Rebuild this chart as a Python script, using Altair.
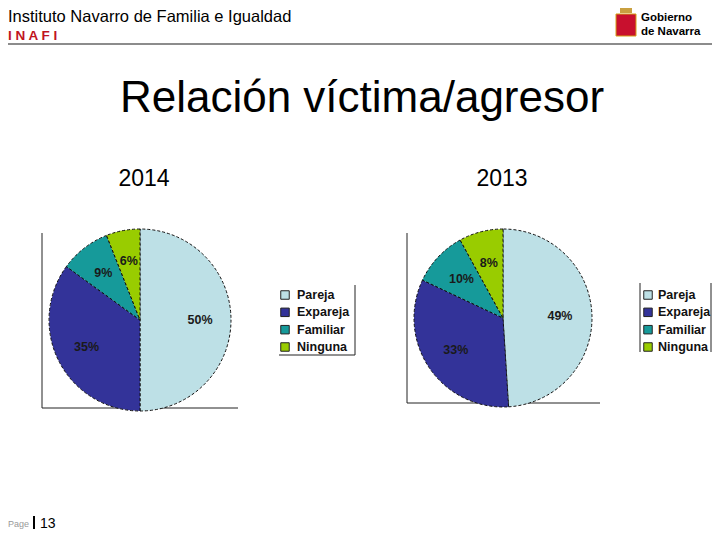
import altair as alt
import pandas as pd

# ---- data ----
categories = ["Pareja", "Expareja", "Familiar", "Ninguna"]
values_2014 = [50, 35, 9, 6]
values_2013 = [49, 33, 10, 8]
colors = ["#BDE0E6", "#333399", "#169A9A", "#99CC00"]
years = ["2014", "2013"]
title_text = "Relación víctima/agresor"
header_text = "Instituto Navarro de Familia e Igualdad"
header_sub = "I N A F I"
logo_lines = ["Gobierno", "de Navarra"]
page_label = "Page"
page_number = "13"

FONT = "Liberation Sans"

def make_df(vals):
    return pd.DataFrame({
        "cat": categories,
        "value": vals,
        "label": [f"{v}%" for v in vals],
        "order": list(range(len(categories))),
    })

df14 = make_df(values_2014)
df13 = make_df(values_2013)
one = pd.DataFrame({"k": [0]})
leg = pd.DataFrame({"cat": categories})

color_scale = alt.Scale(domain=categories, range=colors)
legend_y = alt.Y("cat:N", scale=alt.Scale(type="point", domain=categories, range=[287, 339], padding=0), axis=None)


def pie(df, cx, cy, r, lr):
    base = alt.Chart(df).encode(
        theta=alt.Theta("value:Q", stack=True),
        order=alt.Order("order:Q"),
    )
    arc = base.mark_arc(radius=r, stroke="#111", strokeWidth=1, strokeDash=[3, 2]).encode(
        color=alt.Color("cat:N", scale=color_scale, legend=None),
        x=alt.value(cx), y=alt.value(cy),
    )
    txt = base.mark_text(radius=lr, font=FONT, fontSize=12.5, fontWeight="bold", color="#1a1a1a").encode(
        text="label:N", x=alt.value(cx), y=alt.value(cy),
    )
    return [arc, txt]


def legend(xsq, xtxt):
    sq = alt.Chart(leg).mark_square(size=72, stroke="#222", strokeWidth=1, opacity=1, filled=True).encode(
        x=alt.value(xsq), y=legend_y,
        color=alt.Color("cat:N", scale=color_scale, legend=None),
    )
    tx = alt.Chart(leg).mark_text(align="left", baseline="middle", font=FONT, fontSize=12.5,
                                  fontWeight="bold", color="#111").encode(
        x=alt.value(xtxt), y=legend_y, text="cat:N",
    )
    return [sq, tx]


def vrule(x, y1, y2, color="#222", w=1):
    return alt.Chart(one).mark_rule(color=color, strokeWidth=w).encode(
        x=alt.value(x), y=alt.value(y1), y2=alt.value(y2))


def hrule(y, x1, x2, color="#222", w=1):
    return alt.Chart(one).mark_rule(color=color, strokeWidth=w).encode(
        y=alt.value(y), x=alt.value(x1), x2=alt.value(x2))


def label(text, x, y, size, color="#000", weight="normal", align="left", baseline="alphabetic"):
    return alt.Chart(one).mark_text(text=text, font=FONT, fontSize=size, color=color, fontWeight=weight,
                                    align=align, baseline=baseline).encode(
        x=alt.value(x), y=alt.value(y))


def rect(x1, x2, y1, y2, fill, stroke=None):
    kw = dict(fill=fill)
    if stroke:
        kw.update(stroke=stroke, strokeWidth=1)
    return alt.Chart(one).mark_rect(**kw).encode(
        x=alt.value(x1), x2=alt.value(x2), y=alt.value(y1), y2=alt.value(y2))


layers = []
# header
layers.append(label(header_text, 0, 14, 16.5))
layers.append(label(header_sub, 0, 32, 13.5, color="#C0141E", weight="bold"))
layers.append(hrule(36, 0, 704, color="#666", w=1.5))
# logo
layers.append(rect(612, 624, 0, 5, "#C9A040"))
layers.append(rect(608, 628, 6, 28, "#C8102E", stroke="#D4A017"))
layers.append(label(logo_lines[0], 633, 13, 11.5, weight="bold"))
layers.append(label(logo_lines[1], 633, 27, 11.5, weight="bold"))
# title
layers.append(label(title_text, 354, 104, 44, align="center"))
layers.append(label(years[0], 136, 178, 23, align="center"))
layers.append(label(years[1], 494, 178, 23, align="center"))

# pie 2014
layers.append(vrule(34, 225, 400))
layers.append(hrule(400, 34, 230))
layers += pie(df14, 132, 312, 91, 60)
layers += legend(277, 289)
layers.append(vrule(347, 277, 347))
layers.append(hrule(347, 271, 347))

# pie 2013
layers.append(vrule(399, 225, 395))
layers.append(hrule(395, 399, 592))
layers += pie(df13, 495, 310, 89, 57)
layers += legend(640, 650)
layers.append(vrule(632, 275, 344))
layers.append(vrule(703, 275, 344))

# footer
layers.append(label(page_label, 0, 519, 9, color="#999"))
layers.append(vrule(26, 508, 521, color="#000", w=2))
layers.append(label(page_number, 32, 520, 14))

chart = alt.layer(*layers).properties(
    width=704, height=524, padding=0, autosize=alt.AutoSizeParams(type="none"),
).configure_view(stroke=None)

chart.save("out.html", embed_options={"renderer": "svg", "actions": False})
